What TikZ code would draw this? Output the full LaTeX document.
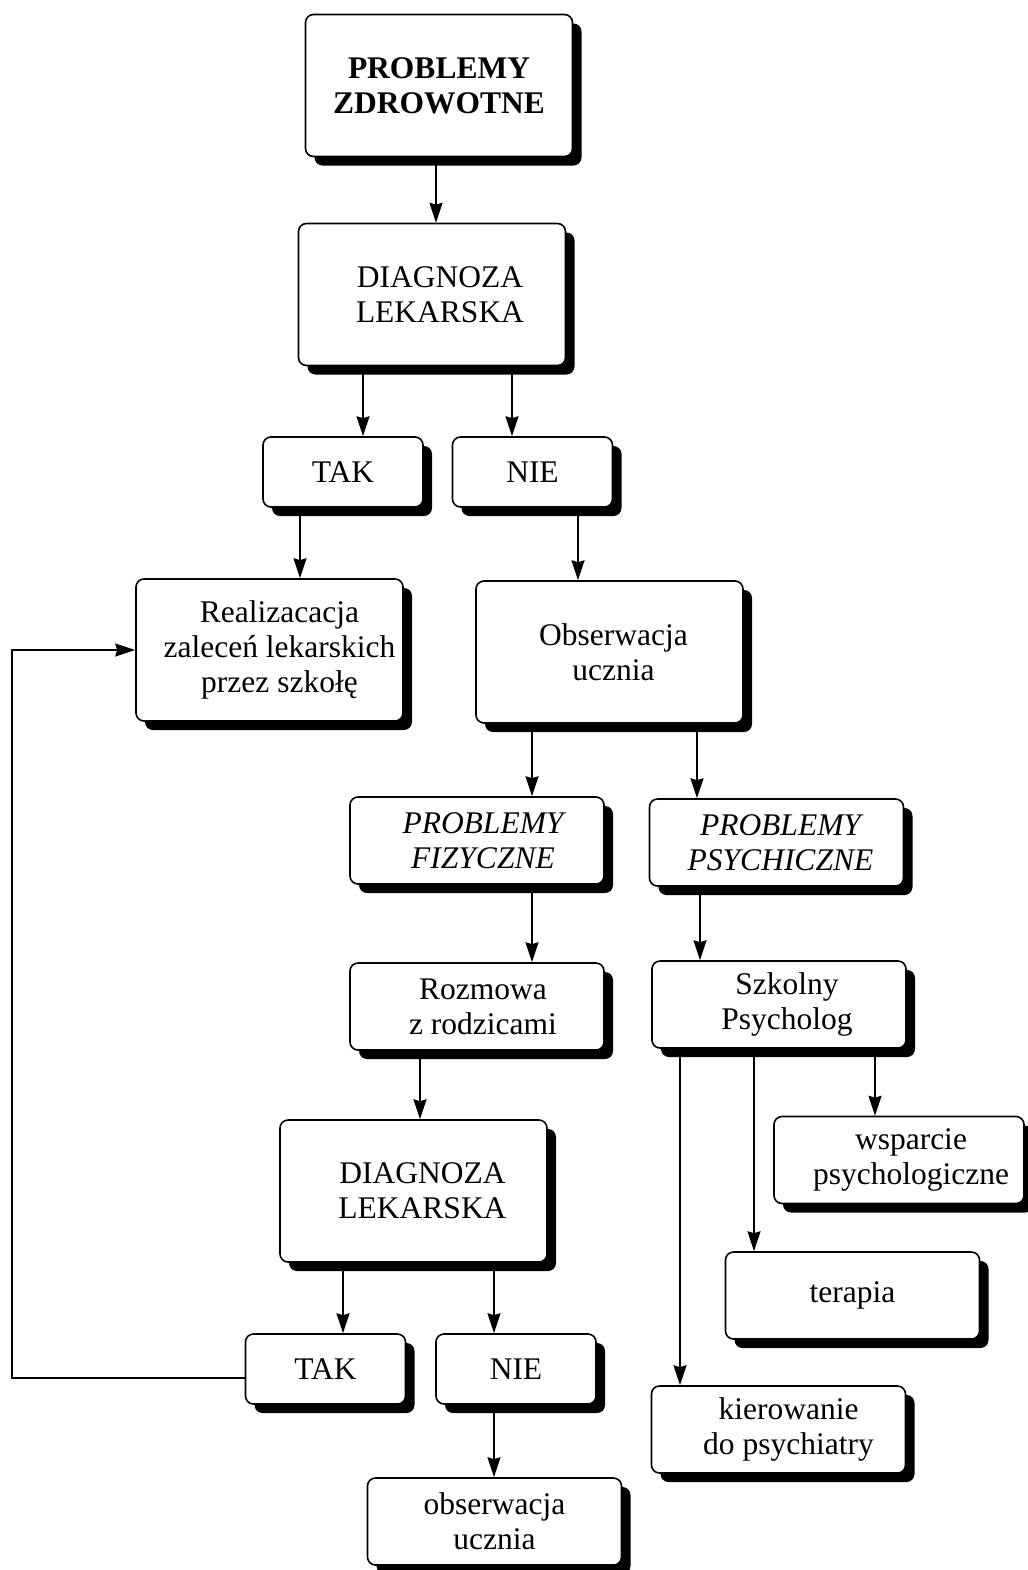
\documentclass[tikz,border=0pt]{standalone}
\usepackage{fontspec}
\setmainfont{Liberation Serif}
\usetikzlibrary{shadows,arrows.meta}

\begin{document}
\begin{tikzpicture}[x=0.5pt,y=-0.5pt,line cap=round,
    >={Stealth[length=10pt,width=6.5pt,inset=1pt]},
    box/.style={draw,line width=0.8pt,rounded corners=4pt,fill=white,align=center,
      inner sep=2pt,font=\fontsize{15.75}{17.5}\selectfont,
      preaction={draw=white,line width=3pt},
      general shadow={fill=black,shadow xshift=4.5pt,shadow yshift=-4.5pt}},
    bigbox/.style={box,minimum width=133.5pt,minimum height=71pt},
    midbox/.style={box,minimum width=127pt,minimum height=43.5pt},
    smallbox/.style={box,minimum width=80pt,minimum height=35pt},
    arr/.style={->,line width=0.75pt}]
  \useasboundingbox (0,0) rectangle (1028,1570);
% left branch
  \node[bigbox,font=\fontsize{15.75}{17.5}\selectfont\bfseries] (PZ) at (439,85.5) {PROBLEMY\\ZDROWOTNE};
  \node[bigbox] (DLa) at (432,294.5) {\hspace*{8pt}DIAGNOZA\\\hspace*{8pt}LEKARSKA};
  \node[smallbox] (TAKa) at (343,472) {TAK};
  \node[smallbox] (NIEa) at (532.5,472) {NIE};
  \node[bigbox] (Real) at (269.5,650) {\hspace*{10pt}Realizacacja\\\hspace*{10pt}zaleceń lekarskich\\\hspace*{10pt}przez szkołę};
  \node[bigbox] (Obs) at (609.5,652) {\hspace*{4pt}Obserwacja\\\hspace*{4pt}ucznia};
  \node[midbox,font=\fontsize{15.75}{17.5}\selectfont\itshape] (PF) at (477,840.5) {\hspace*{6pt}PROBLEMY\\\hspace*{6pt}FIZYCZNE};
  \node[midbox,font=\fontsize{15.75}{17.5}\selectfont\itshape] (PP) at (776.5,842.5) {\hspace*{4pt}PROBLEMY\\\hspace*{4pt}PSYCHICZNE};
  \node[midbox] (Rozm) at (477,1006.5) {\hspace*{6pt}Rozmowa\\\hspace*{6pt}z rodzicami};
  \node[midbox] (Szk) at (779,1004.5) {\hspace*{8pt}Szkolny\\\hspace*{8pt}Psycholog};
  \node[bigbox] (DLb) at (413.5,1191) {\hspace*{9pt}DIAGNOZA\\\hspace*{9pt}LEKARSKA};
  \node[smallbox] (TAKb) at (325.5,1369) {TAK};
  \node[smallbox] (NIEb) at (516,1369) {NIE};
  \node[midbox] (Obsb) at (494.5,1521.5) {obserwacja\\ucznia};
% right branch
  \node[midbox,minimum width=125pt] (Wsp) at (899,1160) {\hspace*{12pt}wsparcie\\\hspace*{12pt}psychologiczne};
  \node[midbox] (Ter) at (852.5,1295.5) {terapia};
  \node[midbox] (Kier) at (778.5,1429.5) {\hspace*{10pt}kierowanie\\\hspace*{10pt}do psychiatry};
% arrows
  \draw[arr] (436,0 |- PZ.south) -- (436,0 |- DLa.north);
  \draw[arr] (363,0 |- DLa.south) -- (363,0 |- TAKa.north);
  \draw[arr] (512,0 |- DLa.south) -- (512,0 |- NIEa.north);
  \draw[arr] (300,0 |- TAKa.south) -- (300,0 |- Real.north);
  \draw[arr] (578,0 |- NIEa.south) -- (578,0 |- Obs.north);
  \draw[arr] (532,0 |- Obs.south) -- (532,0 |- PF.north);
  \draw[arr] (697,0 |- Obs.south) -- (697,0 |- PP.north);
  \draw[arr] (532,0 |- PF.south) -- (532,0 |- Rozm.north);
  \draw[arr] (700,0 |- PP.south) -- (700,0 |- Szk.north);
  \draw[arr] (420,0 |- Rozm.south) -- (420,0 |- DLb.north);
  \draw[arr] (343,0 |- DLb.south) -- (343,0 |- TAKb.north);
  \draw[arr] (494,0 |- DLb.south) -- (494,0 |- NIEb.north);
  \draw[arr] (494,0 |- NIEb.south) -- (494,0 |- Obsb.north);
  \draw[arr] (680,0 |- Szk.south) -- (680,0 |- Kier.north);
  \draw[arr] (754,0 |- Szk.south) -- (754,0 |- Ter.north);
  \draw[arr] (875,0 |- Szk.south) -- (875,0 |- Wsp.north);
  \draw[arr] ([yshift=-4.5pt]TAKb.west) -- (12,1378) |- (Real.west);
\end{tikzpicture}
\end{document}
